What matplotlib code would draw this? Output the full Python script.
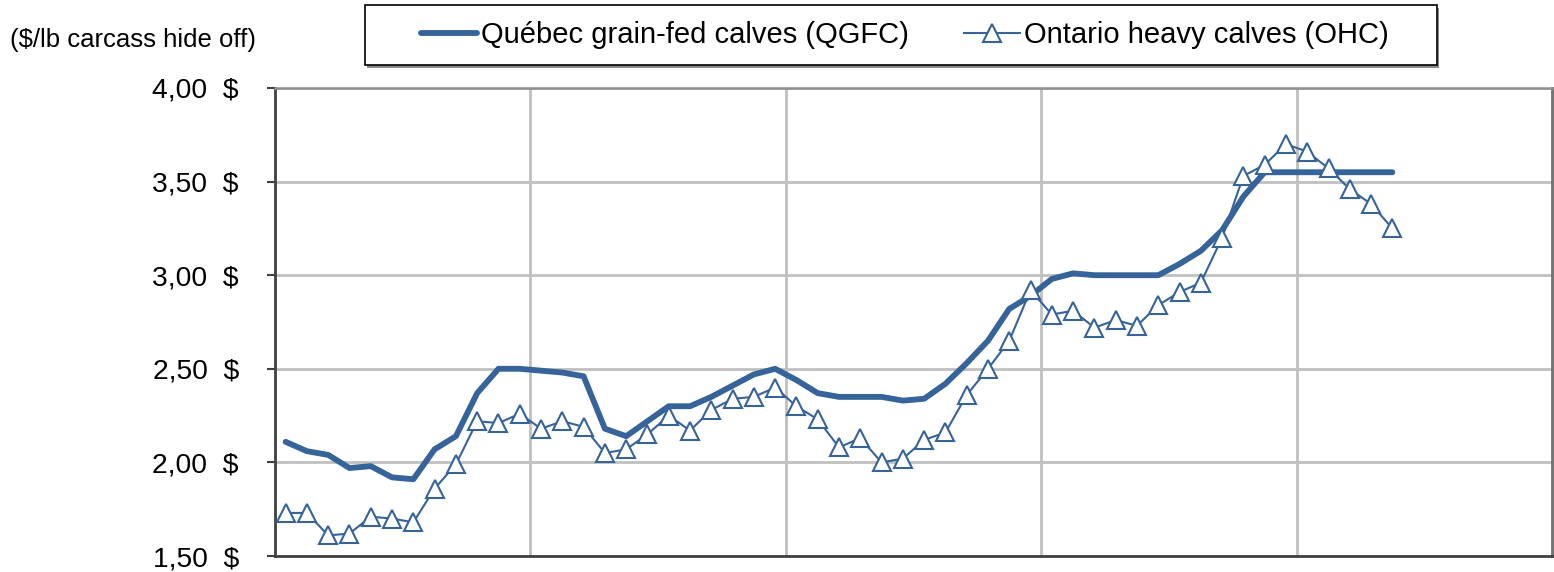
import numpy as np
import matplotlib.pyplot as plt
from matplotlib.patches import Rectangle
from matplotlib.lines import Line2D

# Monthly carcass prices ($/lb, hide off)
qgfc = [2.11, 2.06, 2.04, 1.97, 1.98, 1.92, 1.91, 2.07, 2.14, 2.37,
        2.50, 2.50, 2.49, 2.48, 2.46, 2.18, 2.14, 2.22, 2.30, 2.30,
        2.35, 2.41, 2.47, 2.50, 2.44, 2.37, 2.35, 2.35, 2.35, 2.33,
        2.34, 2.42, 2.53, 2.65, 2.82, 2.89, 2.98, 3.01, 3.00, 3.00,
        3.00, 3.00, 3.06, 3.13, 3.24, 3.42, 3.55, 3.55, 3.55, 3.55,
        3.55, 3.55, 3.55]
ohc = [1.73, 1.73, 1.61, 1.62, 1.71, 1.70, 1.68, 1.86, 1.99, 2.22,
       2.21, 2.26, 2.18, 2.22, 2.19, 2.05, 2.07, 2.15, 2.25, 2.17,
       2.28, 2.34, 2.35, 2.40, 2.30, 2.23, 2.08, 2.13, 2.00, 2.02,
       2.12, 2.16, 2.36, 2.50, 2.65, 2.92, 2.79, 2.81, 2.72, 2.76,
       2.73, 2.84, 2.91, 2.96, 3.20, 3.53, 3.59, 3.70, 3.66, 3.57,
       3.46, 3.38, 3.25]
months = np.arange(len(qgfc))
n_slots = 60
y_ticks = [1.50, 2.00, 2.50, 3.00, 3.50, 4.00]

blue = "#35639a"
grid_grey = "#c0c0c0"

plt.rcParams["font.family"] = ["Liberation Sans", "DejaVu Sans"]

fig = plt.figure(figsize=(15.54, 5.72), dpi=100)
ax = fig.add_axes([275 / 1554, 16 / 572, 1277 / 1554, 468 / 572])

ax.plot(months, qgfc, color=blue, linewidth=4.2, solid_capstyle="round",
        solid_joinstyle="round", label="Québec grain-fed calves (QGFC)", zorder=3)
ax.plot(months, ohc, color=blue, linewidth=1.5, marker="^", markersize=13,
        markerfacecolor="white", markeredgecolor=blue, markeredgewidth=1.5,
        label="Ontario heavy calves (OHC)", zorder=4)

ax.set_xlim(-0.5, n_slots - 0.5)
ax.set_ylim(1.5, 4.0)
ax.set_yticks(y_ticks)
ax.set_yticklabels([f"{v:.2f}  $".replace(".", ",") for v in y_ticks], fontsize=20.3)
ax.set_xticks(np.arange(11.5, n_slots - 0.5, 12))
ax.set_xticklabels([])
ax.tick_params(axis="x", length=0)
ax.tick_params(axis="y", direction="out", length=6, width=1.5, color="#404040", pad=20)
ax.grid(True, color=grid_grey, linewidth=2)
ax.set_axisbelow(True)

for side in ("left", "bottom"):
    ax.spines[side].set_color("#404040")
    ax.spines[side].set_linewidth(2)
ax.spines["top"].set_color("#909090")
ax.spines["top"].set_linewidth(1.8)
ax.spines["right"].set_color("#707070")
ax.spines["right"].set_linewidth(2)

fig.text(10 / 1554, 1 - 40 / 572, "($/lb carcass hide off)", fontsize=18.5,
         ha="left", va="center")

# legend box with a drop shadow
x0, y0, w, h = 365 / 1554, 1 - 65 / 572, 1072 / 1554, 60 / 572
fig.patches.append(Rectangle((x0 + 2 / 1554, y0 - 3 / 572), w, h, transform=fig.transFigure,
                             facecolor="#8c8c8c", edgecolor="none", zorder=1))
fig.patches.append(Rectangle((x0, y0), w, h, transform=fig.transFigure,
                             facecolor="white", edgecolor="black", linewidth=1.2, zorder=2))

handles = [
    Line2D([], [], color=blue, linewidth=4.2, solid_capstyle="round"),
    Line2D([], [], color=blue, linewidth=1.5, marker="^", markersize=13,
           markerfacecolor="white", markeredgecolor=blue, markeredgewidth=1.5),
]
labels = ["Québec grain-fed calves (QGFC)", "Ontario heavy calves (OHC)"]
leg = fig.legend(handles, labels, loc="center", bbox_to_anchor=(905 / 1554, 1 - 35 / 572),
                 ncol=2, frameon=False, fontsize=21, handlelength=1.9,
                 handletextpad=0.15, columnspacing=1.9, borderpad=0, borderaxespad=0)
leg.set_zorder(5)

fig.savefig("out.png", dpi=100)
